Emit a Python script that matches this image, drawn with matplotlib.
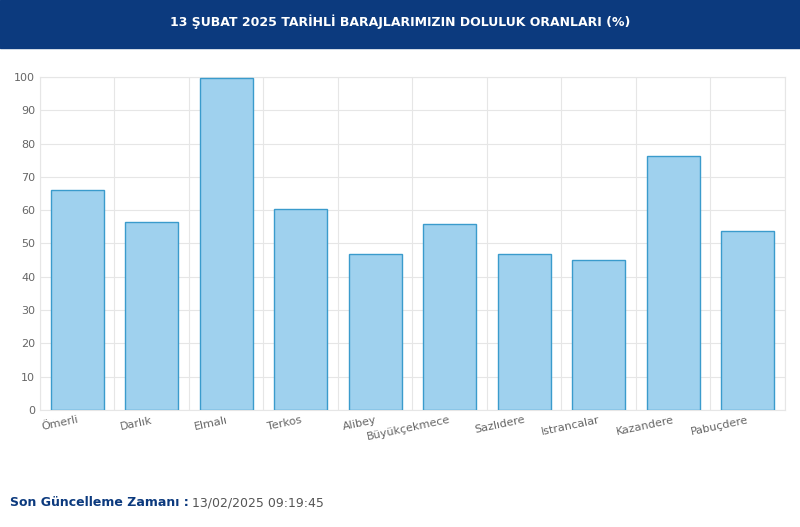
import matplotlib; matplotlib.use("Agg")
import matplotlib.pyplot as plt
import numpy as np

dams = ["Ömerli", "Darlık", "Elmalı", "Terkos", "Alibey", "Büyükçekmece",
        "Sazlıdere", "Istrancalar", "Kazandere", "Pabuçdere"]
fill_pct = [66.0, 56.5, 99.8, 60.5, 46.8, 55.8, 46.7, 45.0, 76.3, 53.8]

fig = plt.figure(figsize=(8, 5.27), dpi=100)
fig.patch.set_facecolor("white")

# header band
fig.patches.append(plt.Rectangle((0, 1 - 48/527), 1, 48/527, transform=fig.transFigure,
                                 color="#0c3a7e", zorder=0))
fig.text(0.5, 1 - 22/527, "13 ŞUBAT 2025 TARİHLİ BARAJLARIMIZIN DOLULUK ORANLARI (%)",
         ha="center", va="center", color="white", fontsize=9, fontweight="bold")

ax = fig.add_axes([0.05, 0.222, 0.931, 0.632])
x = np.arange(len(dams))
ax.bar(x, fill_pct, width=0.71, color="#9fd1ee", edgecolor="#3a9bcc", linewidth=1, zorder=3)
ax.set_xlim(-0.5, len(dams) - 0.5)
ax.set_ylim(0, 100)
ax.set_yticks(range(0, 101, 10))
ax.set_xticks(x)
ax.set_xticklabels(dams, rotation=12, ha="right", rotation_mode="anchor", fontsize=8, color="#666666")
ax.set_xticks(np.arange(-0.5, len(dams)), minor=True)
ax.tick_params(axis="y", labelsize=8, colors="#666666", length=0)
ax.tick_params(axis="x", which="both", length=0)
ax.grid(which="minor", axis="x", color="#e6e6e6", lw=0.8, zorder=0)
ax.grid(which="major", axis="y", color="#e6e6e6", lw=0.8, zorder=0)
for s in ax.spines.values():
    s.set_color("#e6e6e6")

lbl = fig.text(0.012, 1 - 503/527, "Son Güncelleme Zamanı :", ha="left", va="center",
               color="#0c3a7e", fontsize=9, fontweight="bold")
fig.text(0, 0.5, " 13/02/2025 09:19:45", ha="left", va="center",
         color="#555555", fontsize=9, transform=matplotlib.transforms.offset_copy(
             fig.transFigure, fig=fig, x=0, y=0))
fig.texts[-1].remove()
ax.annotate(" 13/02/2025 09:19:45", xy=(1, 0.5), xycoords=lbl, ha="left", va="center",
            color="#555555", fontsize=9, annotation_clip=False)

fig.savefig("out.png", dpi=100)
